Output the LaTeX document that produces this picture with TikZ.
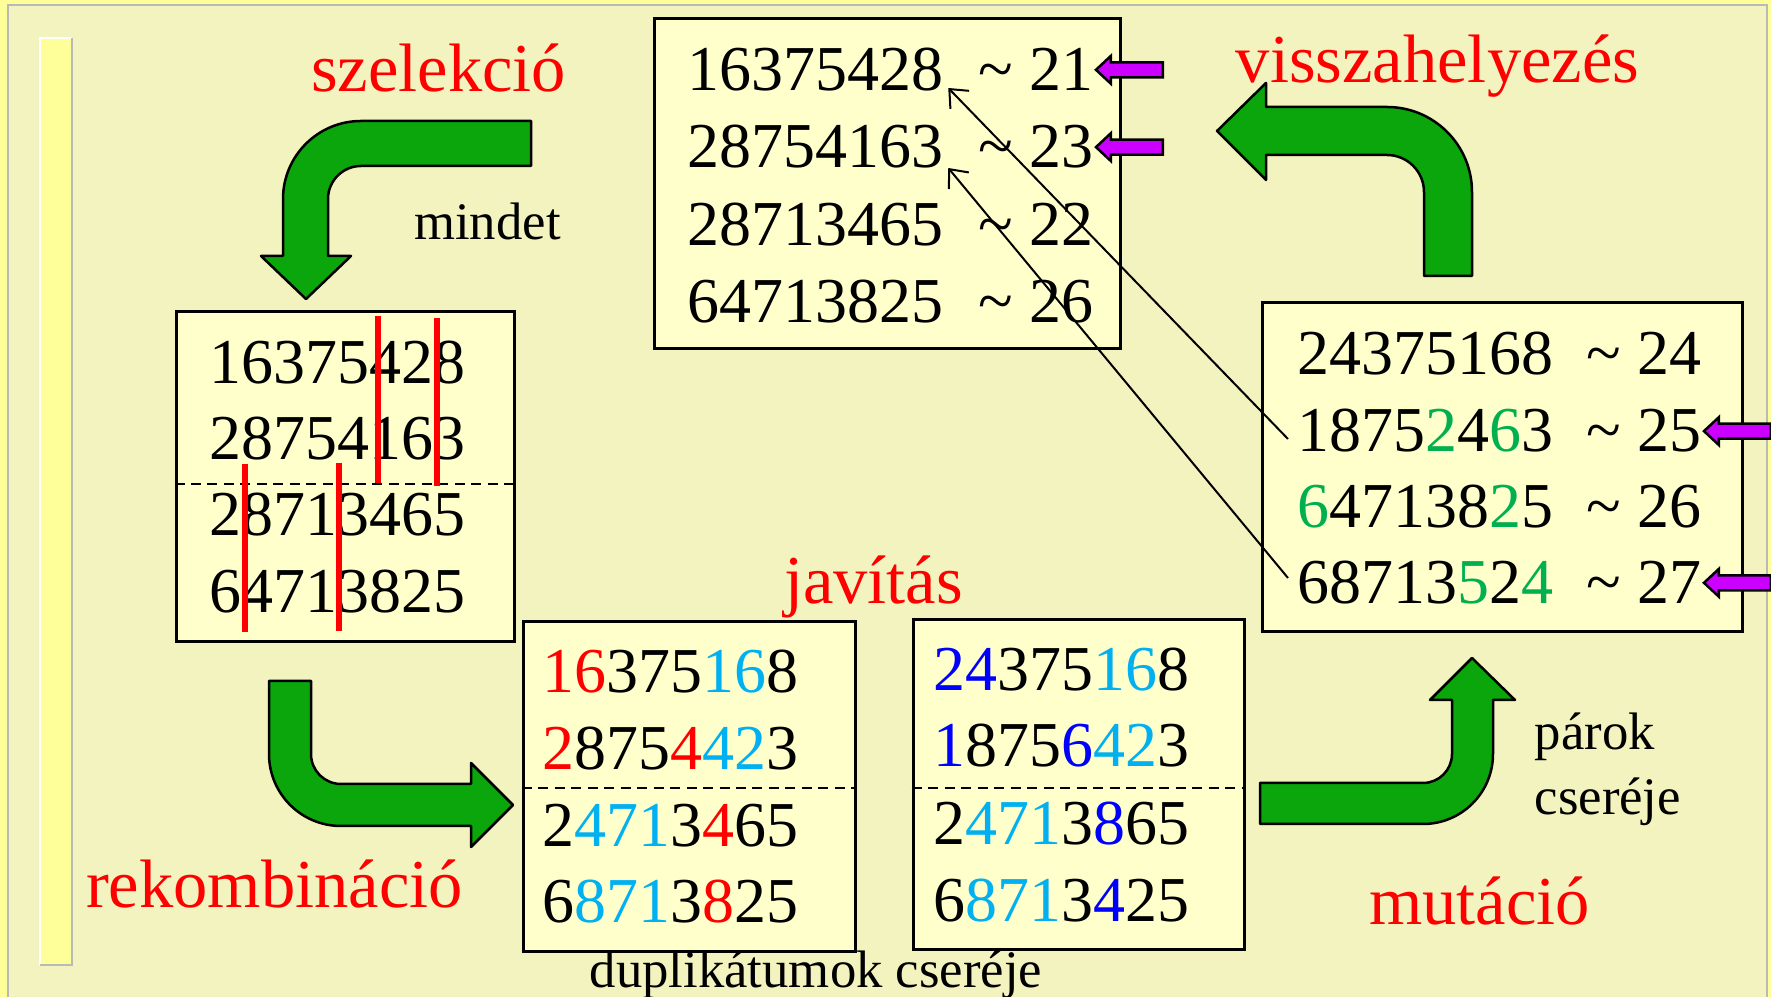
\documentclass[tikz,border=0pt]{standalone}
\usepackage{fontspec}
\setmainfont{Liberation Serif}
\usepackage{xcolor}
\usepackage{tikz}
\usetikzlibrary{arrows.meta, positioning}

\definecolor{slidebg}{RGB}{243,243,192}
\definecolor{slideband}{RGB}{255,255,153}
\definecolor{boxfill}{RGB}{255,255,204}
\definecolor{arrowgreen}{RGB}{10,166,12}
\definecolor{keeppurple}{RGB}{204,0,255}
\definecolor{genered}{RGB}{255,0,0}
\definecolor{genecyan}{RGB}{0,176,240}
\definecolor{geneblue}{RGB}{0,0,255}
\definecolor{genegreen}{RGB}{0,176,80}

\newcommand{\gRed}[1]{\textcolor{genered}{#1}}
\newcommand{\gCyan}[1]{\textcolor{genecyan}{#1}}
\newcommand{\gBlue}[1]{\textcolor{geneblue}{#1}}
\newcommand{\gGreen}[1]{\textcolor{genegreen}{#1}}
% small block arrow, tip at #1, pointing left
\newcommand{\keeparrow}[1]{\draw[keepmark] #1 -- ++(0.15,0.14) -- ++(0,-0.065) -- ++(0.52,0) -- ++(0,-0.15) -- ++(-0.52,0) -- ++(0,-0.065) -- cycle;}

\begin{document}
\begin{tikzpicture}[
    every node/.style={inner sep=0pt},
    digits/.style={anchor=base west, font=\fontsize{18.2}{22}\selectfont},
    score/.style={digits},
    phase/.style={anchor=base, text=genered, font=\fontsize{19.5}{23}\selectfont},
    note/.style={anchor=base, font=\fontsize{15}{18}\selectfont},
    popbox/.style={rectangle, draw, line width=0.3mm, fill=boxfill, minimum height=3.30cm},
    cutline/.style={line width=0.2mm, dash pattern=on 1mm off 0.65mm},
    cutmark/.style={genered, line width=0.55mm},
    bigarrow/.style={fill=arrowgreen, draw=black, line width=0.25mm, line join=round},
    keepmark/.style={fill=keeppurple, draw=black, line width=0.25mm},
    swaparrow/.style={-{Straight Barb[length=1.5mm, width=2.6mm]}, line width=0.2mm}
]
\useasboundingbox (0,0) rectangle (17.71,-9.97);

% ── slide background ──
\fill[slideband] (0,0) rectangle (17.71,-9.97);
\fill[slidebg] (0.08,-0.05) rectangle (17.67,-9.97);
\draw[gray!55, line width=0.2mm] (0.08,-9.97) -- (0.08,-0.05) -- (17.67,-0.05) -- (17.67,-9.97);
\fill[slideband] (0.40,-0.38) rectangle (0.72,-9.65);
\draw[white, line width=0.2mm] (0.40,-9.65) -- (0.40,-0.38) -- (0.72,-0.38);
\draw[gray!55, line width=0.2mm] (0.72,-0.38) -- (0.72,-9.65) -- (0.40,-9.65);

% ════════════════════════════════════════
% POPULATION (top)
% ════════════════════════════════════════
\node[popbox, minimum width=4.66cm] (popbox) at (8.87,-1.84) {};
\node[digits] (p1) at (6.87,-0.91)  {16375428};
\node[digits] (p2) at (6.87,-1.68)  {28754163};
\node[digits] (p3) at (6.87,-2.455) {28713465};
\node[digits] (p4) at (6.87,-3.23)  {64713825};
\node[score] (p1s) at (9.78,-0.91)  {\textasciitilde{} 21};
\node[score] (p2s) at (9.78,-1.68)  {\textasciitilde{} 23};
\node[score] (p3s) at (9.78,-2.455) {\textasciitilde{} 22};
\node[score] (p4s) at (9.78,-3.23)  {\textasciitilde{} 26};

% ════════════════════════════════════════
% SELECTION (left)
% ════════════════════════════════════════
\node[phase] (selname) at (4.385,-0.92) {szelekció};
\node[note]  (selnote) at (4.875,-2.40) {mindet};
\node[popbox, minimum width=3.38cm] (selbox) at (3.45,-4.77) {};
\node[digits] (s1) at (2.09,-3.84) {16375428};
\node[digits] (s2) at (2.09,-4.60) {28754163};
\node[digits] (s3) at (2.09,-5.36) {28713465};
\node[digits] (s4) at (2.09,-6.13) {64713825};
\draw[cutline] ([yshift=-0.7mm]selbox.west) -- ([yshift=-0.7mm]selbox.east);
\draw[cutmark] (3.78,-3.16) -- (3.78,-4.83);
\draw[cutmark] (4.37,-3.18) -- (4.37,-4.86);
\draw[cutmark] (2.45,-4.64) -- (2.45,-6.32);
\draw[cutmark] (3.39,-4.63) -- (3.39,-6.31);

% ════════════════════════════════════════
% RECOMBINATION + REPAIR (bottom middle)
% ════════════════════════════════════════
\node[phase] (recname) at (2.745,-9.08) {rekombináció};
\node[phase] (fixname) at (8.735,-6.04) {javítás};
\node[popbox, minimum width=3.32cm] (fixbox) at (6.89,-7.87) {};
\node[digits] (j1) at (5.415,-6.93) {\gRed{16}375\gCyan{16}8};
\node[digits] (j2) at (5.415,-7.70) {\gRed{2}875\gRed{4}\gCyan{42}3};
\node[digits] (j3) at (5.415,-8.47) {2\gCyan{471}3\gRed{4}65};
\node[digits] (j4) at (5.415,-9.23) {6\gCyan{871}3\gRed{8}25};
\draw[cutline] ([yshift=-0.1mm]fixbox.west) -- ([yshift=-0.1mm]fixbox.east);

% ════════════════════════════════════════
% MUTATION (bottom right)
% ════════════════════════════════════════
\node[popbox, minimum width=3.31cm] (mutbox) at (10.785,-7.85) {};
\node[digits] (m1) at (9.325,-6.91) {\gBlue{24}375\gCyan{16}8};
\node[digits] (m2) at (9.325,-7.67) {\gBlue{1}875\gBlue{6}\gCyan{42}3};
\node[digits] (m3) at (9.325,-8.45) {2\gCyan{471}3\gBlue{8}65};
\node[digits] (m4) at (9.325,-9.22) {6\gCyan{871}3\gBlue{4}25};
\draw[cutline] ([yshift=-0.3mm]mutbox.west) -- ([yshift=-0.3mm]mutbox.east);
\node[phase] (mutname) at (14.795,-9.25) {mutáció};
\node[note, anchor=base west] (mutnote1) at (15.34,-7.50) {párok};
\node[note, anchor=base west] (mutnote2) at (15.34,-8.15) {cseréje};

% label under both bottom boxes, on top of them
\node[note] (fixnote) at (8.16,-9.88) {duplikátumok cseréje};

% ════════════════════════════════════════
% OFFSPRING (right)
% ════════════════════════════════════════
\node[popbox, minimum width=4.80cm, minimum height=3.29cm] (offbox) at (15.02,-4.675) {};
\node[digits] (o1) at (12.97,-3.75) {24375168};
\node[digits] (o2) at (12.97,-4.52) {1875\gGreen{2}4\gGreen{6}3};
\node[digits] (o3) at (12.97,-5.28) {\gGreen{6}47138\gGreen{2}5};
\node[digits] (o4) at (12.97,-6.04) {68713\gGreen{5}2\gGreen{4}};
\node[score] (o1s) at (15.86,-3.75) {\textasciitilde{} 24};
\node[score] (o2s) at (15.86,-4.52) {\textasciitilde{} 25};
\node[score] (o3s) at (15.86,-5.28) {\textasciitilde{} 26};
\node[score] (o4s) at (15.86,-6.04) {\textasciitilde{} 27};
\node[phase] (backname) at (14.375,-0.83) {visszahelyezés};

% ── big green arrows ──
\draw[bigarrow] (5.31,-1.21) -- (3.61,-1.21) arc (90:180:0.78) -- (2.83,-2.56)
    -- (2.61,-2.56) -- (3.06,-2.99) -- (3.51,-2.56) -- (3.28,-2.56) -- (3.28,-1.99)
    arc (180:90:0.33) -- (5.31,-1.66) -- cycle;
\draw[bigarrow] (2.69,-6.81) -- (2.69,-7.54) arc (180:270:0.72) -- (4.71,-8.26)
    -- (4.71,-8.47) -- (5.13,-8.05) -- (4.71,-7.63) -- (4.71,-7.84) -- (3.41,-7.84)
    arc (270:180:0.30) -- (3.11,-6.81) -- cycle;
\draw[bigarrow] (12.60,-7.83) -- (12.60,-8.24) -- (14.23,-8.24) arc (270:360:0.70)
    -- (14.93,-7.00) -- (15.15,-7.00) -- (14.72,-6.58) -- (14.30,-7.00) -- (14.52,-7.00)
    -- (14.52,-7.54) arc (0:-90:0.29) -- cycle;
\draw[bigarrow] (14.72,-2.76) -- (14.72,-1.92) arc (0:90:0.85) -- (12.66,-1.07)
    -- (12.66,-0.83) -- (12.17,-1.31) -- (12.66,-1.80) -- (12.66,-1.55) -- (13.87,-1.55)
    arc (90:0:0.37) -- (14.24,-2.76) -- cycle;

% ── kept individuals ──
\keeparrow{([xshift=0.2mm]p1s.east)}
\keeparrow{([xshift=0.2mm]p2s.east)}
\keeparrow{([xshift=0.2mm]o2s.east)}
\keeparrow{([xshift=0.2mm]o4s.east)}

% ── replacements ──
\draw[swaparrow] ([shift={(-0.9mm,1.3mm)}]o2.base west) -- ([shift={(0.4mm,0.3mm)}]p1.base east);
\draw[swaparrow] ([shift={(-0.9mm,2.6mm)}]o4.base west) -- ([shift={(0.4mm,0mm)}]p2.base east);

\end{tikzpicture}
\end{document}
